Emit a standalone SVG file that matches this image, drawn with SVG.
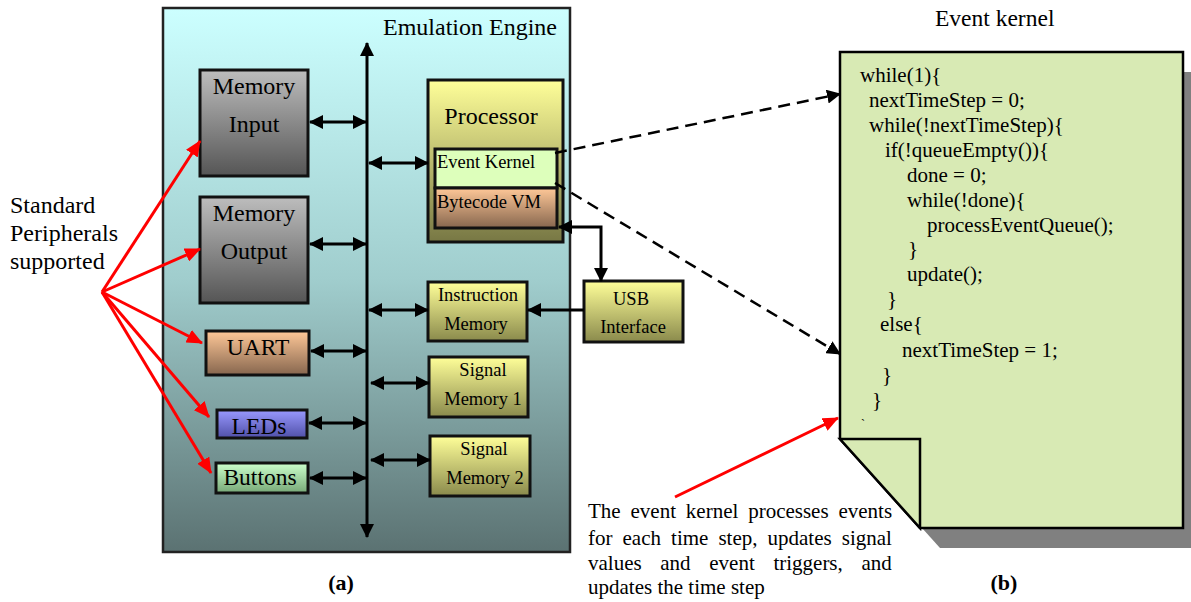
<svg xmlns="http://www.w3.org/2000/svg" width="1191" height="602" viewBox="0 0 1191 602">
<defs>
<linearGradient id="gEng" x1="0" y1="0" x2="0" y2="1"><stop offset="0" stop-color="#ccffff"/><stop offset="0.5" stop-color="#a0cdcd"/><stop offset="1" stop-color="#5b7272"/></linearGradient>
<linearGradient id="gGray" x1="0" y1="0" x2="0" y2="1"><stop offset="0" stop-color="#bdbdbd"/><stop offset="1" stop-color="#555555"/></linearGradient>
<linearGradient id="gYel" x1="0" y1="0" x2="0" y2="1"><stop offset="0" stop-color="#ffff99"/><stop offset="1" stop-color="#777744"/></linearGradient>
<linearGradient id="gYel2" x1="0" y1="0" x2="0" y2="1"><stop offset="0" stop-color="#ffff99"/><stop offset="1" stop-color="#8a8a4c"/></linearGradient>
<linearGradient id="gPeach" x1="0" y1="0" x2="0" y2="1"><stop offset="0" stop-color="#ffc898"/><stop offset="1" stop-color="#86664e"/></linearGradient>
<linearGradient id="gBlue" x1="0" y1="0" x2="0" y2="1"><stop offset="0" stop-color="#9999ff"/><stop offset="1" stop-color="#5050a8"/></linearGradient>
<linearGradient id="gGreen" x1="0" y1="0" x2="0" y2="1"><stop offset="0" stop-color="#ccffcc"/><stop offset="1" stop-color="#77a877"/></linearGradient>
<marker id="ab" viewBox="0 0 14 14" markerWidth="14" markerHeight="14" markerUnits="userSpaceOnUse" refX="13" refY="7" orient="auto-start-reverse"><path d="M0,0 L14,7 L0,14 Z" fill="#000"/></marker>
<marker id="ar" viewBox="0 0 16 14" markerWidth="16" markerHeight="14" markerUnits="userSpaceOnUse" refX="15" refY="7" orient="auto"><path d="M0,0 L16,7 L0,14 Z" fill="#ff0000"/></marker>
<style>
text{font-family:"Liberation Serif","Times New Roman",serif;fill:#000}
.box{stroke:#111;stroke-width:3}
.t24{font-size:24px}
.t23{font-size:23.5px}
.t18{font-size:18.5px}
.c{text-anchor:middle}
.bk{stroke:#000;stroke-width:3;fill:none;marker-start:url(#ab);marker-end:url(#ab)}
.one{stroke:#000;stroke-width:3;fill:none;marker-end:url(#ab)}
.dash{stroke:#000;stroke-width:2.5;fill:none;stroke-dasharray:12 7;marker-end:url(#ab)}
.red{stroke:#ff0000;stroke-width:3;fill:none;marker-end:url(#ar)}
.code{font-size:21px}
.cap{font-size:21px}
</style>
</defs>

<g id="engine">
<rect x="163" y="8" width="407" height="544" fill="url(#gEng)" stroke="#222" stroke-width="2.5"/>
<text class="t24" x="557" y="35" text-anchor="end">Emulation Engine</text>
</g>

<g id="memory-input">
<rect class="box" x="200" y="70" width="108" height="106" fill="url(#gGray)"/>
<text class="t24 c" x="254" y="94">Memory</text>
<text class="t24 c" x="254" y="132">Input</text>
</g>
<g id="memory-output">
<rect class="box" x="200" y="197" width="108" height="106" fill="url(#gGray)"/>
<text class="t24 c" x="254" y="221">Memory</text>
<text class="t24 c" x="254" y="259">Output</text>
</g>
<g id="uart">
<rect class="box" x="206" y="331" width="103" height="44" fill="url(#gPeach)"/>
<text class="t23 c" x="258" y="355">UART</text>
</g>
<g id="leds">
<rect class="box" x="217" y="410" width="90" height="28" fill="url(#gBlue)"/>
<text class="t23 c" x="259" y="434">LEDs</text>
</g>
<g id="buttons">
<rect class="box" x="216" y="463" width="92" height="30" fill="url(#gGreen)"/>
<text class="t23 c" x="260" y="485">Buttons</text>
</g>

<g id="processor">
<rect class="box" x="428" y="80" width="135" height="162" fill="url(#gYel)"/>
<text class="t24 c" x="491" y="124">Processor</text>
</g>
<g id="event-kernel">
<rect class="box" x="435" y="149" width="122" height="39" fill="#ddffbb"/>
<text class="t18" x="437" y="168">Event Kernel</text>
</g>
<g id="bytecode-vm">
<rect class="box" x="435" y="188" width="122" height="40" fill="url(#gPeach)"/>
<text class="t18" x="437" y="208">Bytecode VM</text>
</g>
<g id="instruction-memory">
<rect class="box" x="428" y="282" width="99" height="59" fill="url(#gYel2)"/>
<text class="t18 c" x="478" y="301">Instruction</text>
<text class="t18 c" x="476" y="330">Memory</text>
</g>
<g id="signal-memory-1">
<rect class="box" x="429" y="357" width="99" height="60" fill="url(#gYel2)"/>
<text class="t18 c" x="483" y="376">Signal</text>
<text class="t18 c" x="483" y="405">Memory 1</text>
</g>
<g id="signal-memory-2">
<rect class="box" x="430" y="436" width="100" height="60" fill="url(#gYel2)"/>
<text class="t18 c" x="484" y="455">Signal</text>
<text class="t18 c" x="485" y="484">Memory 2</text>
</g>
<g id="usb-interface">
<rect class="box" x="584" y="281" width="99" height="61" fill="url(#gYel2)"/>
<text class="t18 c" x="631" y="305">USB</text>
<text class="t18 c" x="633" y="333">Interface</text>
</g>

<g id="event-kernel-page">
<path d="M860,72 H1203 V548 H940 L860,459 Z" fill="#808080"/>
<path d="M840,52 H1183 V528 H920 L840,439 Z" fill="#d8eab4" stroke="#000" stroke-width="2.5"/>
<path d="M840,439 H920 V528 Z" fill="#d8eab4" stroke="#000" stroke-width="2.5" stroke-linejoin="miter"/>
<text class="t23" x="935" y="26">Event kernel</text>
<text class="code" x="860" y="82">while(1){</text>
<text class="code" x="869" y="107">nextTimeStep = 0;</text>
<text class="code" x="869" y="132">while(!nextTimeStep){</text>
<text class="code" x="885" y="157">if(!queueEmpty()){</text>
<text class="code" x="907" y="182">done = 0;</text>
<text class="code" x="907" y="207">while(!done){</text>
<text class="code" x="927" y="232">processEventQueue();</text>
<text class="code" x="908" y="256">}</text>
<text class="code" x="907" y="281">update();</text>
<text class="code" x="887" y="306">}</text>
<text class="code" x="880" y="331">else{</text>
<text class="code" x="902" y="357">nextTimeStep = 1;</text>
<text class="code" x="882" y="382">}</text>
<text class="code" x="872" y="407">}</text>
<text style="font-size:12px" x="861" y="428">`</text>
</g>

<g id="labels">
<text x="10" y="213" class="t24">Standard</text>
<text x="10" y="241" class="t24">Peripherals</text>
<text x="10" y="269" class="t24">supported</text>
<text class="cap" x="588" y="518" style="word-spacing:4.6px">The event kernel processes events</text>
<text class="cap" x="588" y="545" style="word-spacing:4.8px">for each time step, updates signal</text>
<text class="cap" x="588" y="570" style="word-spacing:13.4px">values and event triggers, and</text>
<text class="cap" x="588" y="594">updates the time step</text>
<text x="341" y="590" class="c" style="font-size:22px;font-weight:bold">(a)</text>
<text x="1004" y="590" class="c" style="font-size:22px;font-weight:bold">(b)</text>
</g>

<g id="connectors">
<path class="bk" d="M367,43 V537"/>
<path class="bk" d="M310,122 H366"/>
<path class="bk" d="M310,244 H366"/>
<path class="bk" d="M311,351 H366"/>
<path class="bk" d="M309,423 H366"/>
<path class="bk" d="M310,478 H366"/>
<path class="bk" d="M369,163 H428"/>
<path class="bk" d="M369,310 H428"/>
<path class="bk" d="M371,383 H429"/>
<path class="bk" d="M371,460 H430"/>
<path class="bk" d="M559,227 H601 V281" stroke-linejoin="miter"/>
<path class="one" d="M584,310 H528"/>
<path class="dash" d="M555,153 L840,94"/>
<path class="dash" d="M555,183 L840,354"/>
<path class="red" d="M102,292 L200,141"/>
<path class="red" d="M102,292 L200,249"/>
<path class="red" d="M102,292 L202,343"/>
<path class="red" d="M102,292 L209,417"/>
<path class="red" d="M102,292 L211,473"/>
<path class="red" d="M675,497 L838,418"/>
</g>
</svg>
